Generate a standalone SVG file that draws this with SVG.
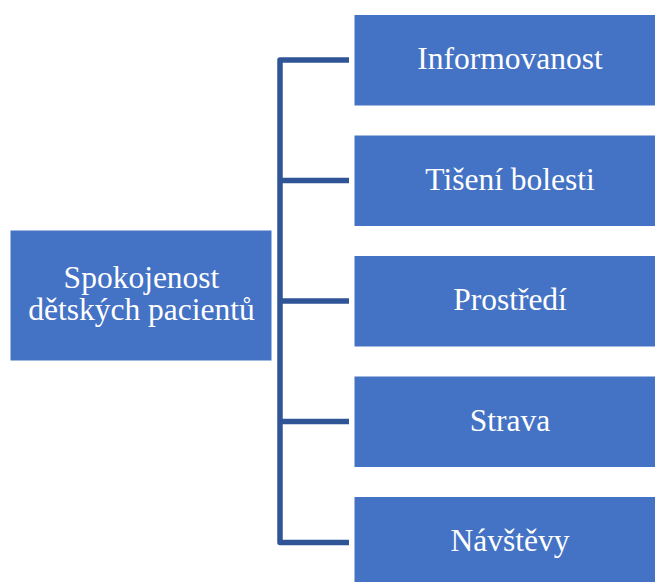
<svg xmlns="http://www.w3.org/2000/svg" width="655" height="582" viewBox="0 0 655 582">
<style>
.box{fill:#4472C4}
.lbl{fill:#FFFFFF;font-family:"Liberation Serif","Times New Roman",serif;font-size:31.5px;text-anchor:middle}
.conn{fill:none;stroke:#2F5597;stroke-width:5.5;stroke-linejoin:round}
</style>
<rect width="655" height="582" fill="#FFFFFF"/>
<g id="connectors">
<path class="conn" d="M349,60 H280 V542.5 H349"/>
<path class="conn" d="M280,180.5 H349"/>
<path class="conn" d="M280,301 H349"/>
<path class="conn" d="M280,421.5 H349"/>
</g>
<g id="root">
<rect class="box" x="10.5" y="230.5" width="261" height="130"/>
<text class="lbl" x="141.5" y="288.3">Spokojenost</text>
<text class="lbl" x="141.5" y="320">dětských pacientů</text>
</g>
<g id="n1">
<rect class="box" x="354.5" y="15" width="300.5" height="90.5"/>
<text class="lbl" x="510" y="69.3">Informovanost</text>
</g>
<g id="n2">
<rect class="box" x="354.5" y="135.5" width="300.5" height="90.5"/>
<text class="lbl" x="510" y="189.8">Tišení bolesti</text>
</g>
<g id="n3">
<rect class="box" x="354.5" y="256" width="300.5" height="90.5"/>
<text class="lbl" x="510" y="310.3">Prostředí</text>
</g>
<g id="n4">
<rect class="box" x="354.5" y="376.5" width="300.5" height="90.5"/>
<text class="lbl" x="510" y="430.8">Strava</text>
</g>
<g id="n5">
<rect class="box" x="354.5" y="497" width="300.5" height="90.5"/>
<text class="lbl" x="510" y="551.3">Návštěvy</text>
</g>
</svg>
